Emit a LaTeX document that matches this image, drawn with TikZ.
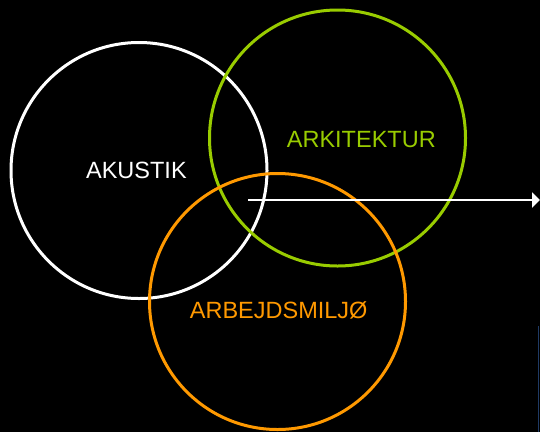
\documentclass[tikz,border=0pt]{standalone}
\usepackage{fontspec}
\setmainfont{Liberation Sans}
\usetikzlibrary{arrows.meta}
\definecolor{ringgreen}{HTML}{99CC00}
\definecolor{ringorange}{HTML}{FF9900}
\definecolor{edgeblue}{HTML}{1F3A64}
\tikzset{
  ring/.style={circle, draw=#1, line width=3pt, inner sep=0pt, minimum size=256pt},
  label text/.style={text=#1, font=\fontsize{23.5}{27}\selectfont, inner sep=0pt},
  pointer/.style={draw=white, line width=2pt, -{Triangle[length=8pt,width=15pt]}}
}
\begin{document}
\begin{tikzpicture}[x=1pt,y=-1pt]
\fill[black] (0,0) rectangle (540,432);
\useasboundingbox (0,0) rectangle (540,432);
\node[ring=white] (akustik) at (139,170.5) {};
\node[ring=ringgreen] (arkitektur) at (337.5,138) {};
\node[ring=ringorange] (arbejd) at (277.5,301.5) {};
\node[label text=white] (lakustik) at (136.4,170) {AKUSTIK};
\node[label text=ringgreen] (larkitektur) at (361.3,139.2) {ARKITEKTUR};
\node[label text=ringorange] (larbejd) at (278.7,310) {ARBEJDSMILJØ};
\coordinate (arrowstart) at (248,200);
\coordinate (arrowend) at (540,200);
\draw[pointer] (arrowstart) -- (arrowend);
\coordinate (bluetop) at (538.5,326);
\coordinate (bluebot) at (538.5,432);
\draw[edgeblue, line width=1pt] (bluetop) -- (bluebot);
\end{tikzpicture}
\end{document}
